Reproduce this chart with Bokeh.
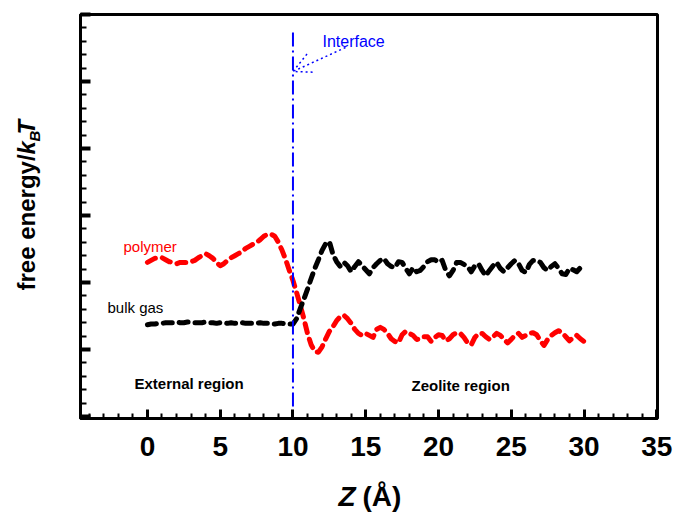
from bokeh.plotting import figure
from bokeh.models import (Label, Arrow, OpenHead, SingleIntervalTicker, Range1d,
                          CustomJSTickFormatter)
from bokeh.embed import file_html
from bokeh.resources import INLINE
import math

# ---------------- data ----------------
z = [i * 0.25 for i in range(121)]  # Z (Angstrom), 0 .. 30

bulk_gas = [
    # 0 .. 10
    0.37, 0.38, 0.38, 0.39, 0.39, 0.40, 0.40, 0.40, 0.41, 0.40,
    0.40, 0.41, 0.41, 0.40, 0.40, 0.40, 0.41, 0.40, 0.40, 0.39,
    0.40, 0.40, 0.39, 0.40, 0.39, 0.39, 0.40, 0.39, 0.39, 0.39,
    0.39, 0.40, 0.39, 0.39, 0.39, 0.38, 0.39, 0.39, 0.38, 0.38,
    0.38,
    # 10.25 .. 13.75
    0.46, 0.61, 0.75, 0.90, 1.06, 1.21, 1.34, 1.48, 1.58, 1.61,
    1.42, 1.31, 1.24, 1.30, 1.25,
    # 14 .. 30
    1.16, 1.24, 1.31, 1.25, 1.19, 1.13, 1.22, 1.28, 1.33, 1.36,
    1.28, 1.24, 1.22, 1.31, 1.30, 1.21, 1.13, 1.22, 1.16, 1.18,
    1.24, 1.31, 1.34, 1.34, 1.30, 1.33, 1.18, 1.10, 1.18, 1.30,
    1.30, 1.27, 1.24, 1.16, 1.25, 1.28, 1.18, 1.10, 1.18, 1.25,
    1.30, 1.21, 1.16, 1.22, 1.28, 1.33, 1.28, 1.18, 1.15, 1.27,
    1.33, 1.33, 1.30, 1.22, 1.18, 1.24, 1.28, 1.21, 1.13, 1.12,
    1.21, 1.19, 1.16, 1.22, 1.27,
]

polymer = [
    # 0 .. 10
    1.30, 1.33, 1.36, 1.37, 1.37, 1.34, 1.31, 1.30, 1.28, 1.30,
    1.30, 1.30, 1.31, 1.33, 1.37, 1.40, 1.43, 1.40, 1.36, 1.30,
    1.25, 1.28, 1.33, 1.37, 1.40, 1.43, 1.46, 1.51, 1.54, 1.57,
    1.60, 1.64, 1.69, 1.72, 1.72, 1.69, 1.60, 1.48, 1.34, 1.18,
    1.03,
    # 10.25 .. 17.75
    0.85, 0.66, 0.46, 0.24, 0.07, -0.03, -0.04, 0.04, 0.16, 0.27,
    0.34, 0.43, 0.49, 0.51, 0.46, 0.39, 0.30, 0.24, 0.21, 0.24,
    0.21, 0.18, 0.30, 0.33, 0.30, 0.24, 0.16, 0.12, 0.10, 0.22,
    0.27,
    # 18 .. 30
    0.24, 0.21, 0.15, 0.16, 0.19, 0.19, 0.12, 0.18, 0.22, 0.21,
    0.13, 0.16, 0.22, 0.25, 0.24, 0.18, 0.10, 0.07, 0.18, 0.24,
    0.24, 0.19, 0.15, 0.19, 0.24, 0.21, 0.15, 0.10, 0.15, 0.21,
    0.24, 0.18, 0.21, 0.24, 0.25, 0.22, 0.13, 0.06, 0.15, 0.21,
    0.25, 0.28, 0.25, 0.19, 0.13, 0.18, 0.21, 0.16, 0.12,
]

interface_z = 10.0
x_tick_step = 5
y_tick_step = 1

# ---------------- layout ----------------
W, H = 675, 514
BL, BT, BR, BB = 80, 14, 18, 96
X0, X1 = -4.6, 35.05
Y0, Y1 = -1.03, 5.0
FW, FH = W - BL - BR, H - BT - BB


def dx(px):  # picture pixel -> data x
    return X0 + (px - BL) * (X1 - X0) / FW


def dy(py):  # picture pixel -> data y
    return Y1 - (py - BT) * (Y1 - Y0) / FH


FONT = "Liberation Sans"
BLUE = "#0000ff"

p = figure(width=W, height=H, x_range=Range1d(X0, X1), y_range=Range1d(Y0, Y1),
           output_backend="svg", toolbar_location=None,
           min_border_left=BL, min_border_right=BR, min_border_top=BT,
           min_border_bottom=BB)
p.grid.visible = False
p.background_fill_color = "white"
p.border_fill_color = "white"
p.outline_line_color = "black"
p.outline_line_width = 3
p.outline_line_alpha = 1

p.xaxis.ticker = SingleIntervalTicker(interval=x_tick_step, num_minor_ticks=5)
p.yaxis.ticker = SingleIntervalTicker(interval=y_tick_step, num_minor_ticks=5)
for ax in (p.xaxis, p.yaxis):
    ax.axis_line_width = 3
    ax.axis_line_color = "black"
    ax.major_tick_out = 0
    ax.minor_tick_out = 0
    ax.major_tick_line_color = "black"
    ax.minor_tick_line_color = "black"
    ax.minor_tick_line_width = 2
p.xaxis.major_tick_in = 9
p.xaxis.minor_tick_in = 5
p.xaxis.major_tick_line_width = 3
p.yaxis.major_tick_in = 10
p.yaxis.minor_tick_in = 6
p.yaxis.major_tick_line_width = 4
p.yaxis.formatter = CustomJSTickFormatter(code="return ''")
p.yaxis.major_label_standoff = 0
p.yaxis.major_label_text_font_size = "1px"
p.xaxis.major_label_text_font = FONT
p.xaxis.major_label_text_font_style = "bold"
p.xaxis.major_label_text_font_size = "28px"
p.xaxis.major_label_text_color = "black"
p.xaxis.major_label_standoff = 18

# curves
p.line(z, polymer, line_color="#ff0000", line_width=5, line_dash="9 7",
       line_cap="round", line_join="round")
p.line(z, bulk_gas, line_color="black", line_width=5, line_dash="9 7",
       line_cap="round", line_join="round")

# interface line
p.segment(x0=[interface_z], y0=[dy(32)], x1=[interface_z], y1=[Y0],
          line_color=BLUE, line_width=2, line_dash="14 4 2 4")

p.add_layout(Arrow(x_start=dx(345), y_start=dy(47), x_end=interface_z, y_end=dy(71),
                   line_color=BLUE, line_width=1.5, line_dash="2 3",
                   end=OpenHead(size=20, line_color=BLUE, line_width=1.5, line_dash="2 3")))


def lab(text, px, py, size, color="black", style="normal", angle=0.0, place="center"):
    # (px, py): start of the text baseline, in picture pixels
    shift = 0.33 * size
    if angle:
        x, y = dx(px - shift), dy(py)
    else:
        x, y = dx(px), dy(py - shift)
    p.add_layout(Label(x=x, y=y, text=text, text_font=FONT,
                       text_font_size=f"{size}px", text_font_style=style,
                       text_color=color, text_align="left",
                       text_baseline="alphabetic", angle=angle), place)


lab("Interface", 322, 46, 16, color=BLUE)
lab("polymer", 123, 251, 15, color="#ff0000")
lab("bulk gas", 107, 312, 15)
lab("External region", 134, 388, 15, style="bold")
lab("Zeolite region", 411, 390, 15, style="bold")

# Titles outside the frame live in side panels (panels are not clipped);
# the panel chosen for each piece only keeps the frame where it is.
R = math.pi / 2
lab("free energy/", 34, 290, 24, style="bold", angle=R, place="left")
lab("k  T", 34, 154, 24, style="bold italic", angle=R, place="left")
lab("Z", 338, 505, 28, style="bold italic", place="left")
lab("B", 39, 141, 15, style="bold italic", angle=R, place="right")
lab("(Å)", 362, 505, 28, style="bold", place="below")

open("out.html", "w").write(file_html(p, INLINE))
